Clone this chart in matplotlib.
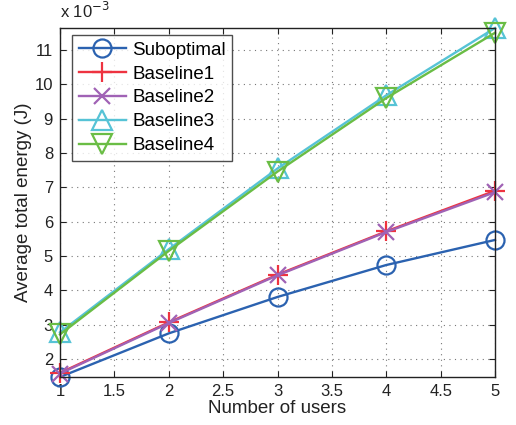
import matplotlib
matplotlib.use("Agg")
import matplotlib.pyplot as plt

plt.rcParams['font.family'] = ['Liberation Sans', 'DejaVu Sans']

users = [1, 2, 3, 4, 5]
# Average total energy, in units of 1e-3 J
suboptimal = [1.48, 2.75, 3.81, 4.74, 5.47]
baseline1 = [1.60, 3.07, 4.46, 5.72, 6.90]
baseline2 = [1.58, 3.05, 4.44, 5.70, 6.86]
baseline3 = [2.78, 5.20, 7.55, 9.68, 11.64]
baseline4 = [2.72, 5.15, 7.46, 9.60, 11.50]

series = [
    ("Suboptimal", suboptimal, "#2B62B0", "o", dict(markersize=13, markerfacecolor="none", markeredgewidth=1.6)),
    ("Baseline1", baseline1, "#EE3340", "+", dict(markersize=15, markeredgewidth=1.6)),
    ("Baseline2", baseline2, "#A062B5", "x", dict(markersize=11, markeredgewidth=1.6)),
    ("Baseline3", baseline3, "#56C3D6", "^", dict(markersize=15, markerfacecolor="none", markeredgewidth=1.6)),
    ("Baseline4", baseline4, "#6ABD45", "v", dict(markersize=15, markerfacecolor="none", markeredgewidth=1.6)),
]

fig = plt.figure(figsize=(5.16, 4.25), dpi=100)
ax = fig.add_axes([60/516, 1 - 377/425, (495-60)/516, (377-28)/425])

for name, vals, col, mk, kw in series:
    ax.plot(users, vals, color=col, marker=mk, linewidth=1.7, label=name, clip_on=False, **kw)

ax.set_xlim(1, 5)
ax.set_ylim(min(suboptimal), max(baseline3))
ax.set_xticks([1, 1.5, 2, 2.5, 3, 3.5, 4, 4.5, 5])
ax.set_xticklabels(["1", "1.5", "2", "2.5", "3", "3.5", "4", "4.5", "5"])
ax.set_yticks(range(2, 12))
ax.grid(True, linestyle=(0, (1, 4)), color="#777777", linewidth=0.8)
ax.tick_params(direction="in", top=True, right=True, labelsize=12, length=4, colors="#222222", pad=5)
for s in ax.spines.values():
    s.set_linewidth(1.0)
    s.set_color("#222222")

ax.set_xlabel("Number of users", fontsize=13.5, color="#222222", labelpad=1)
ax.set_ylabel("Average total energy (J)", fontsize=13.5, color="#222222", labelpad=2)
ax.text(0.0, 1.02, "x 10$^{-3}$", transform=ax.transAxes, fontsize=12, color="#222222", ha="left", va="bottom")

leg = ax.legend(loc="upper left", bbox_to_anchor=(12/435, 1 - 7/349), fontsize=13.5,
                frameon=True, fancybox=False, edgecolor="#222222", handlelength=2.55,
                handletextpad=0.3, labelspacing=0.36, borderpad=0.35, borderaxespad=0)
leg.get_frame().set_linewidth(1.0)

fig.savefig("out.png", dpi=100)
